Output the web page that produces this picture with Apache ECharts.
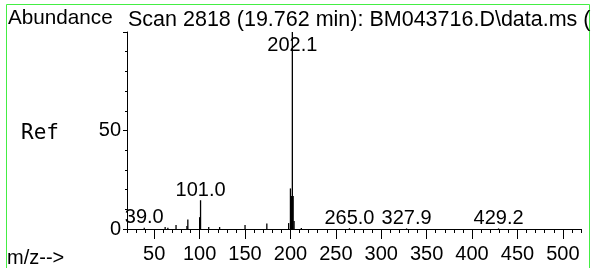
<!DOCTYPE html>
<html>
<head>
<meta charset="utf-8">
<script src="https://cdn.jsdelivr.net/npm/echarts@6/dist/echarts.min.js"></script>
<style>
    html, body { margin: 0; padding: 0; background: #fff; }
    #main { width: 591px; height: 268px; }
</style>
</head>
<body>
<div id="main"></div>
<script>
// mass spectrum (m/z, relative abundance %)
const peakMz    = [39.0, 62, 65, 74, 86, 87, 100, 101.0, 110, 122, 150, 174, 198, 200, 201, 202.1, 203, 204, 212, 265.0, 327.9, 429.2];
const peakAbund = [0.6, 1.0, 0.6, 2.0, 1.5, 4.8, 6.0, 14.6, 1.0, 1.0, 2.0, 2.8, 3.0, 20.6, 16.8, 100, 16.8, 4.0, 0.5, 0.4, 0.3, 0.3];
// peaks that carry a m/z label
const labelMz   = [39.0, 101.0, 202.1, 265.0, 327.9, 429.2];
const xTickLabels = [50, 100, 150, 200, 250, 300, 350, 400, 450, 500];
const yTickLabels = [0, 50];

const titleText = 'Scan 2818 (19.762 min): BM043716.D\\data.ms (';

// plot box
const X_MIN = 20, X_MAX = 520;
const GRID_LEFT = 127, GRID_TOP = 32, GRID_BOTTOM = 39;
const PX_PER_MZ = 0.908;
const GRID_W = (X_MAX - X_MIN) * PX_PER_MZ;
const FONT = "'Liberation Sans', Arial, sans-serif";

const chart = echarts.init(document.getElementById('main'));

const seriesData = peakMz.map(function (mz, i) {
    const item = { value: [mz, peakAbund[i]] };
    if (labelMz.indexOf(mz) >= 0) {
        item.label = { show: true };
        if (peakAbund[i] >= 90) {
            // tall peak: label sits inside the frame, over the line
            item.label.position = 'insideTop';
            item.label.distance = 3;
        }
    }
    return item;
});

chart.setOption({
    backgroundColor: '#fff',
    animation: false,
    grid: [
        { left: GRID_LEFT, top: GRID_TOP, width: GRID_W, bottom: GRID_BOTTOM },
        // second box only for the long (labelled) ticks 50..500
        { left: GRID_LEFT + (xTickLabels[0] - X_MIN) * PX_PER_MZ, top: GRID_TOP,
          width: (xTickLabels[xTickLabels.length - 1] - xTickLabels[0]) * PX_PER_MZ, bottom: GRID_BOTTOM }
    ],
    xAxis: [
        {
            gridIndex: 0, type: 'value', min: X_MIN, max: X_MAX, interval: 10,
            axisLine: { show: true, lineStyle: { color: '#000', width: 1 } },
            axisTick: { show: true, length: 4, lineStyle: { color: '#000' } },
            axisLabel: { show: false },
            splitLine: { show: false }
        },
        {
            gridIndex: 1, type: 'value', min: xTickLabels[0], max: xTickLabels[xTickLabels.length - 1], interval: 50,
            axisLine: { show: false },
            axisTick: { show: true, length: 10, lineStyle: { color: '#000' } },
            axisLabel: {
                show: true, margin: 15, color: '#000', fontSize: 20, fontFamily: FONT,
                formatter: function (v) { return xTickLabels.indexOf(v) >= 0 ? String(v) : ''; }
            },
            splitLine: { show: false }
        }
    ],
    yAxis: [
        {
            gridIndex: 0, type: 'value', min: 0, max: 100, interval: 10, position: 'left',
            axisLine: { show: true, lineStyle: { color: '#000', width: 1 } },
            axisTick: { show: true, length: 2, lineStyle: { color: '#000' } },
            axisLabel: { show: false },
            splitLine: { show: false }
        },
        {
            gridIndex: 0, type: 'value', min: 0, max: 100, interval: 50, position: 'left',
            axisLine: { show: false },
            axisTick: { show: true, length: 4, lineStyle: { color: '#000' } },
            axisLabel: {
                show: true, margin: 6, color: '#000', fontSize: 20, fontFamily: FONT,
                formatter: function (v) { return yTickLabels.indexOf(v) >= 0 ? String(v) : ''; }
            },
            splitLine: { show: false }
        },
        { gridIndex: 1, type: 'value', min: 0, max: 100, show: false }
    ],
    series: [{
        type: 'bar',
        xAxisIndex: 0,
        yAxisIndex: 0,
        barWidth: 1.3,
        itemStyle: { color: '#000' },
        label: {
            show: false, position: 'top', distance: 0,
            color: '#000', fontSize: 20, fontFamily: FONT,
            formatter: function (p) { return p.value[0].toFixed(1); }
        },
        data: seriesData
    }],
    graphic: [
        {
            type: 'rect', silent: true,
            shape: { x: 6.5, y: 4.5, width: 583, height: 300 },
            style: { fill: 'none', stroke: '#44ee44', lineWidth: 1 }
        },
        {
            type: 'text', left: 8, top: 8,
            style: { text: 'Abundance', font: '20.7px ' + FONT, fill: '#000' }
        },
        {
            type: 'text', left: 128, top: 9,
            style: { text: titleText, font: '21.5px ' + FONT, fill: '#000' }
        },
        {
            type: 'text', left: 21, top: 123,
            style: { text: 'Ref', font: "21px 'DejaVu Sans Mono', monospace", fill: '#000' }
        },
        {
            type: 'text', left: 7, top: 248,
            style: { text: 'm/z-->', font: '20px ' + FONT, fill: '#000' }
        }
    ]
});
</script>
</body>
</html>
